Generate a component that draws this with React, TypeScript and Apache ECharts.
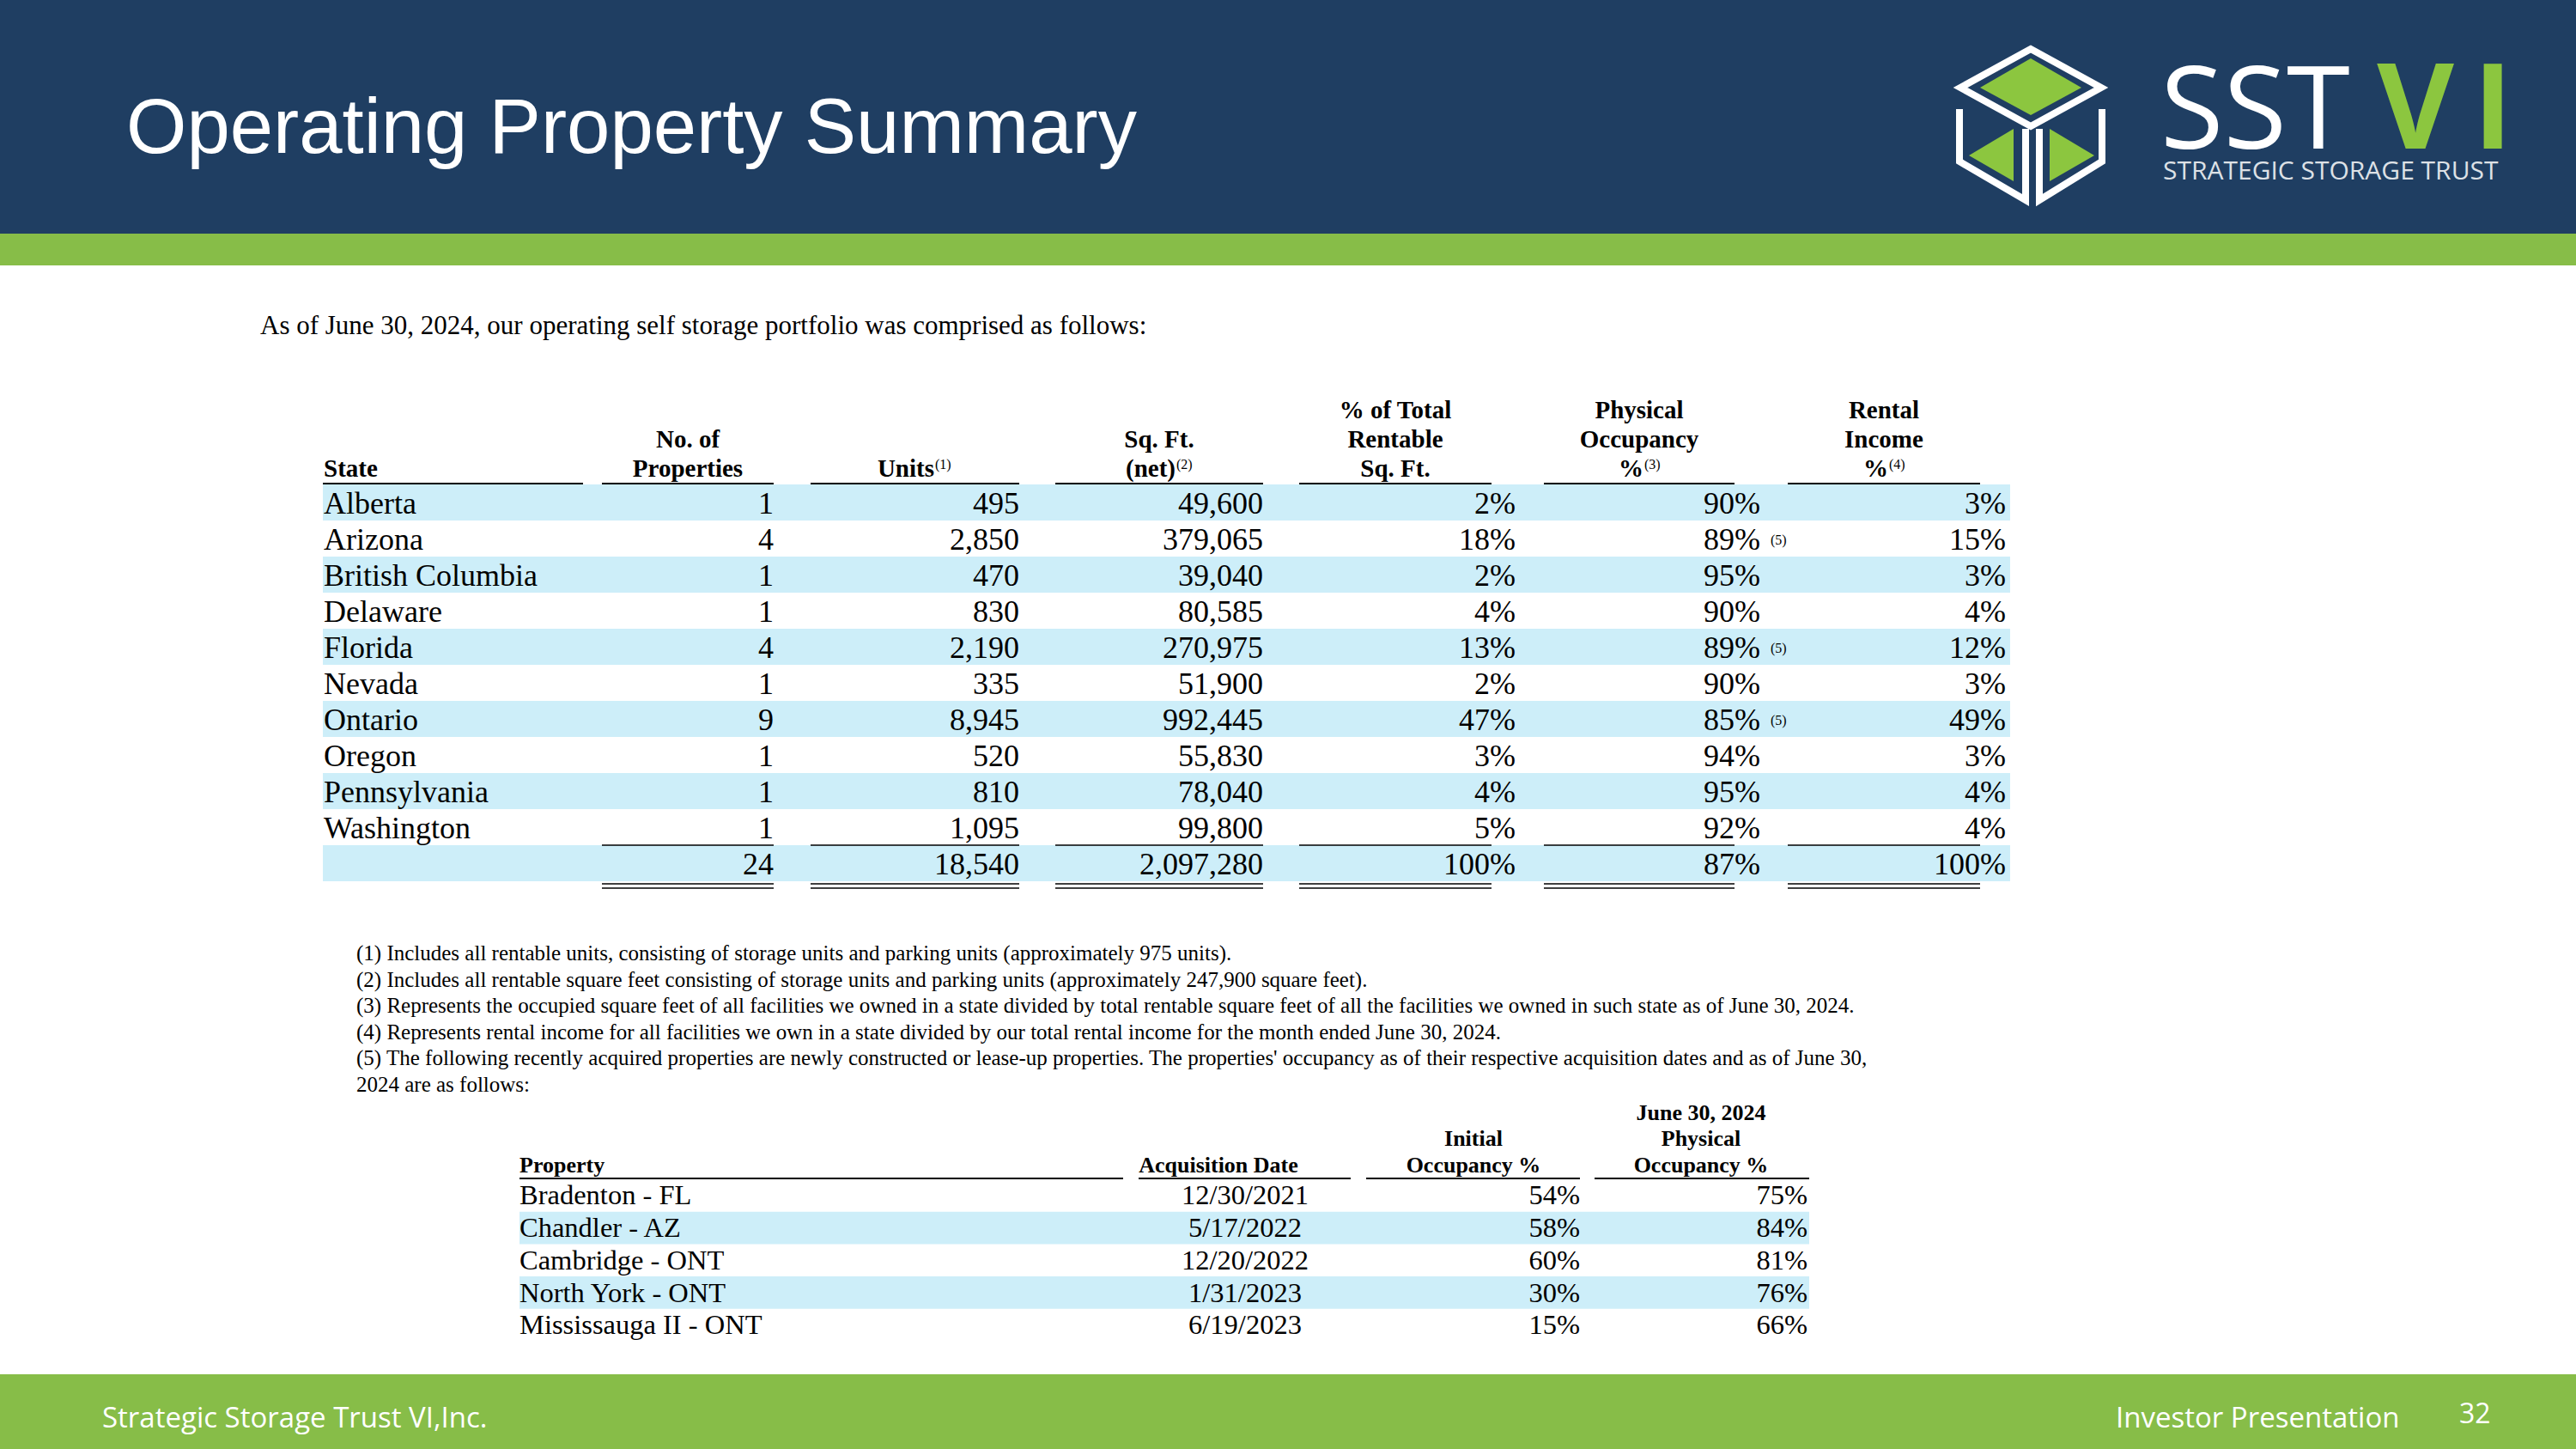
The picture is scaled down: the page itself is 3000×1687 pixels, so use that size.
import React, { useEffect, useRef } from "react";
import * as echarts from "echarts";

// ---------- DATA ----------
const states = ["Alberta", "Arizona", "British Columbia", "Delaware", "Florida", "Nevada", "Ontario", "Oregon", "Pennsylvania", "Washington"];
const propertyCounts = [1, 4, 1, 1, 4, 1, 9, 1, 1, 1];
const unitCounts = [495, 2850, 470, 830, 2190, 335, 8945, 520, 810, 1095];
const sqFtNet = [49600, 379065, 39040, 80585, 270975, 51900, 992445, 55830, 78040, 99800];
const pctRentableSqFt = [2, 18, 2, 4, 13, 2, 47, 3, 4, 5];
const physicalOccupancy = [90, 89, 95, 90, 89, 90, 85, 94, 95, 92];
const rentalIncomePct = [3, 15, 3, 4, 12, 3, 49, 3, 4, 4];
const occupancyNote5 = [false, true, false, false, true, false, true, false, false, false];
const totalsRow = [24, 18540, 2097280, 100, 87, 100];

const footnotes = [
  "(1) Includes all rentable units, consisting of storage units and parking units (approximately 975 units).",
  "(2) Includes all rentable square feet consisting of storage units and parking units (approximately 247,900 square feet).",
  "(3) Represents the occupied square feet of all facilities we owned in a state divided by total rentable square feet of all the facilities we owned in such state as of June 30, 2024.",
  "(4) Represents rental income for all facilities we own in a state divided by our total rental income for the month ended June 30, 2024.",
  "(5) The following recently acquired properties are newly constructed or lease-up properties. The properties' occupancy as of their respective acquisition dates and as of June 30,",
  "2024 are as follows:",
];

const leaseUpProperties = ["Bradenton - FL", "Chandler - AZ", "Cambridge - ONT", "North York - ONT", "Mississauga II - ONT"];
const acquisitionDates = ["12/30/2021", "5/17/2022", "12/20/2022", "1/31/2023", "6/19/2023"];
const initialOccupancy = [54, 58, 60, 30, 15];
const currentOccupancy = [75, 84, 81, 76, 66];

// ---------- STYLE / LAYOUT ----------
const W = 3000;
const H = 1687;
const NAVY = "#1f3e62";
const GREEN = "#87bd48";
const LOGO_GREEN = "#8cc63f";
const BAND = "#cdeef9";
const SERIF = '"Liberation Serif", "Times New Roman", serif';
const SANS = '"Liberation Sans", Arial, sans-serif';
const OPEN = '"Open Sans", sans-serif';

const fmt = (n: number) => n.toLocaleString("en-US");

type TOpts = { color?: string; weight?: string; family?: string; align?: string; k?: number };
function txt(text: string, x: number, baseline: number, size: number, o: TOpts = {}) {
  const k = o.k ?? 0.34;
  const align = o.align || "left";
  return {
    type: "text",
    silent: true,
    style: {
      text,
      x,
      y: baseline - k * size,
      fill: o.color || "#000",
      font: `${o.weight || "normal"} ${size}px ${o.family || SERIF}`,
      align,
      textAlign: align,
      verticalAlign: "middle",
      textVerticalAlign: "middle",
    },
  };
}
function rect(x: number, y: number, w: number, h: number, fill: string) {
  return { type: "rect", silent: true, shape: { x, y, width: w, height: h }, style: { fill } };
}
function hline(x1: number, x2: number, y: number, lw = 2, color = "#000") {
  return { type: "line", silent: true, shape: { x1, y1: y, x2, y2: y }, style: { stroke: color, lineWidth: lw } };
}

function buildElements() {
  const els: any[] = [];

  // header & footer bands
  els.push(rect(0, 0, W, 272, NAVY));
  els.push(rect(0, 272, W, 37, GREEN));
  els.push(rect(0, 1600, W, H - 1600, GREEN));
  els.push(txt("Operating Property Summary", 147, 178, 90.5, { color: "#fff", family: SANS, k: 0.347 }));

  // logo cube
  const wl = { stroke: "#fff", lineWidth: 8, fill: null, lineJoin: "miter" };
  els.push({ type: "polygon", silent: true, shape: { points: [[2365, 57], [2283, 102], [2365, 147], [2447, 102]] }, style: { ...wl, fill: "none" } });
  els.push({ type: "polygon", silent: true, shape: { points: [[2365, 68], [2306, 102], [2365, 134], [2424, 102]] }, style: { fill: LOGO_GREEN } });
  els.push({ type: "polyline", silent: true, shape: { points: [[2282, 127], [2282, 188], [2359, 233], [2359, 150]] }, style: wl });
  els.push({ type: "polyline", silent: true, shape: { points: [[2448, 127], [2448, 188], [2375, 233], [2375, 150]] }, style: wl });
  els.push({ type: "polygon", silent: true, shape: { points: [[2345, 150], [2345, 211], [2293, 181]] }, style: { fill: LOGO_GREEN } });
  els.push({ type: "polygon", silent: true, shape: { points: [[2387, 150], [2387, 211], [2439, 181]] }, style: { fill: LOGO_GREEN } });
  // logo wordmark
  els.push(txt("SST", 2516, 173, 134, { color: "#fff", family: OPEN, k: 0.388 }));
  els.push(txt("V", 2813, 173, 138, { color: LOGO_GREEN, weight: "bold", family: OPEN, align: "center", k: 0.388 }));
  els.push(txt("I", 2903, 173, 138, { color: LOGO_GREEN, weight: "bold", family: OPEN, align: "center", k: 0.388 }));
  els.push(txt("STRATEGIC STORAGE TRUST", 2519, 209, 30, { color: "#dde1e6", family: OPEN, k: 0.388 }));

  // intro line
  els.push(txt("As of June 30, 2024, our operating self storage portfolio was comprised as follows:", 303, 389, 31));

  // ---------- main table ----------
  const rowTop0 = 564;
  const pitch = 42;
  const bandL = 376;
  const bandR = 2341;
  const numRights = [901, 1187, 1471, 1765, 2050, 2336];
  const segs: [number, number][] = [[701, 901], [944, 1187], [1229, 1471], [1513, 1737], [1798, 2020], [2082, 2306]];
  const nRows = states.length + 1;
  for (let i = 0; i < nRows; i++) {
    if (i % 2 === 0) els.push(rect(bandL, rowTop0 + i * pitch, bandR - bandL, pitch, BAND));
  }
  // header
  const HB = 29;
  const hb = { weight: "bold", align: "center" };
  const l1 = 487, l2 = 521, l3 = 555;
  els.push(txt("State", 377, l3, HB, { weight: "bold" }));
  els.push(txt("No. of", 801, l2, HB, hb));
  els.push(txt("Properties", 801, l3, HB, hb));
  const supHeader = (main: string, sup: string, a: number) => {
    els.push(txt(main, a, l3, HB, { weight: "bold", align: "right" }));
    els.push(txt(sup, a + 1, l3 - 9, 16, {}));
  };
  supHeader("Units", "(1)", 1088);
  els.push(txt("Sq. Ft.", 1350, l2, HB, hb));
  supHeader("(net)", "(2)", 1369);
  els.push(txt("% of Total", 1625, l1, HB, hb));
  els.push(txt("Rentable", 1625, l2, HB, hb));
  els.push(txt("Sq. Ft.", 1625, l3, HB, hb));
  els.push(txt("Physical", 1909, l1, HB, hb));
  els.push(txt("Occupancy", 1909, l2, HB, hb));
  supHeader("%", "(3)", 1914);
  els.push(txt("Rental", 2194, l1, HB, hb));
  els.push(txt("Income", 2194, l2, HB, hb));
  supHeader("%", "(4)", 2199);

  els.push(hline(376, 679, 563, 2));
  segs.forEach(([a, b]) => els.push(hline(a, b, 563, 2)));

  // body rows
  const BF = 36;
  states.forEach((s, i) => {
    const bl = rowTop0 + i * pitch + 34;
    const vals = [
      String(propertyCounts[i]),
      fmt(unitCounts[i]),
      fmt(sqFtNet[i]),
      pctRentableSqFt[i] + "%",
      physicalOccupancy[i] + "%",
      rentalIncomePct[i] + "%",
    ];
    els.push(txt(s, 377, bl, BF));
    vals.forEach((v, c) => els.push(txt(v, numRights[c], bl, BF, { align: "right" })));
    if (occupancyNote5[i]) els.push(txt("(5)", 2062, bl - 6, 16));
  });
  // totals row
  const tBl = rowTop0 + states.length * pitch + 34;
  const tVals = [String(totalsRow[0]), fmt(totalsRow[1]), fmt(totalsRow[2]), totalsRow[3] + "%", totalsRow[4] + "%", totalsRow[5] + "%"];
  tVals.forEach((v, c) => els.push(txt(v, numRights[c], tBl, BF, { align: "right" })));
  const tTop = rowTop0 + states.length * pitch;
  segs.forEach(([a, b]) => {
    els.push(hline(a, b, tTop, 1.6));
    els.push(hline(a, b, tTop + 45, 1.6));
    els.push(hline(a, b, tTop + 50, 1.6));
  });

  // footnotes
  footnotes.forEach((f, i) => els.push(txt(f, 415, 1118 + i * 30.6, 25)));

  // ---------- lease-up table ----------
  const sTop0 = 1373;
  const sPitch = 37.7;
  const sBandL = 605, sBandR = 2107;
  leaseUpProperties.forEach((_, i) => {
    if (i % 2 === 1) els.push(rect(sBandL, sTop0 + i * sPitch, sBandR - sBandL, sPitch, BAND));
  });
  const SH = 26;
  const sb = { weight: "bold", align: "center" };
  els.push(txt("June 30, 2024", 1981, 1304, SH, sb));
  els.push(txt("Initial", 1716, 1334, SH, sb));
  els.push(txt("Physical", 1981, 1334, SH, sb));
  els.push(txt("Property", 605, 1365, SH, { weight: "bold" }));
  els.push(txt("Acquisition Date", 1419, 1365, SH, sb));
  els.push(txt("Occupancy %", 1716, 1365, SH, sb));
  els.push(txt("Occupancy %", 1981, 1365, SH, sb));
  [[605, 1308], [1326, 1573], [1591, 1840], [1857, 2107]].forEach(([a, b]) => els.push(hline(a, b, 1372, 2)));
  const SB = 32.5;
  leaseUpProperties.forEach((p, i) => {
    const bl = sTop0 + i * sPitch + 29.5;
    els.push(txt(p, 605, bl, SB));
    els.push(txt(acquisitionDates[i], 1450, bl, SB, { align: "center" }));
    els.push(txt(initialOccupancy[i] + "%", 1840, bl, SB, { align: "right" }));
    els.push(txt(currentOccupancy[i] + "%", 2105, bl, SB, { align: "right" }));
  });

  // footer
  els.push(txt("Strategic Storage Trust VI,Inc.", 119, 1662, 33, { color: "#fff", family: OPEN, k: 0.388 }));
  els.push(txt("Investor Presentation", 2464, 1662, 33, { color: "#fff", family: OPEN, k: 0.388 }));
  els.push(txt("32", 2864, 1657, 32, { color: "#fff", family: OPEN, k: 0.388 }));

  return els;
}

export default function App() {
  const ref = useRef<HTMLDivElement>(null);
  useEffect(() => {
    if (!ref.current) return;
    const chart = echarts.init(ref.current, undefined, { renderer: "svg", width: W, height: H });
    chart.setOption({
      animation: false,
      backgroundColor: "#ffffff",
      graphic: { elements: buildElements() },
    });
    return () => chart.dispose();
  }, []);
  return <div ref={ref} style={{ position: "fixed", left: 0, top: 0, width: W, height: H, background: "#fff" }} />;
}
